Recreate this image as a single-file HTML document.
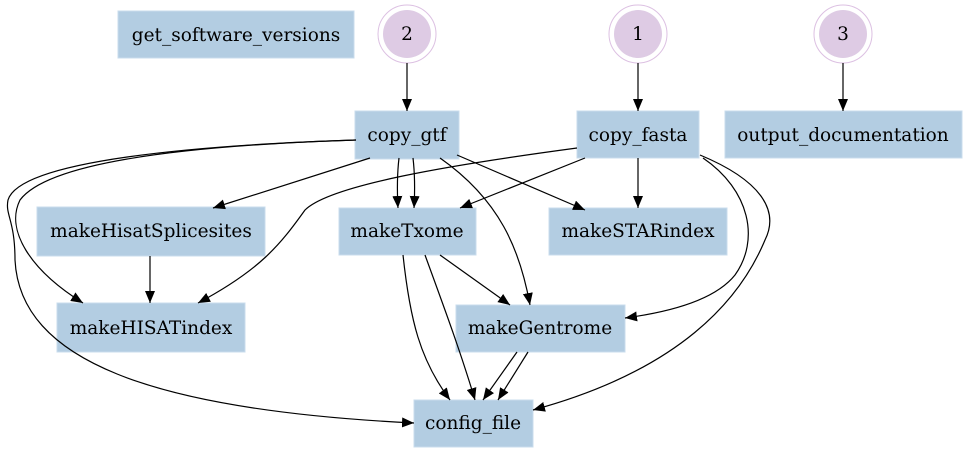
<!DOCTYPE html>
<html><head><style>
html,body{margin:0;padding:0;background:#fff;}
svg{display:block;}
text{font-family:"DejaVu Serif",serif;font-size:18.5px;fill:#000;text-anchor:middle;}
</style></head><body>
<svg width="967" height="453" viewBox="0 0 967 453" xmlns="http://www.w3.org/2000/svg">
<defs><marker id="a" markerWidth="12" markerHeight="10" refX="12" refY="5" orient="auto" markerUnits="userSpaceOnUse"><path d="M0,0 L12,5 L0,10 Z" fill="#000"/></marker></defs>
<g fill="#b3cde2" stroke="#c8dcec" stroke-width="1">
<rect x="118" y="11" width="236" height="47"/>
<rect x="355" y="111" width="104" height="48"/>
<rect x="577" y="111" width="122" height="47"/>
<rect x="725" y="111" width="237" height="47"/>
<rect x="37" y="207" width="228" height="49"/>
<rect x="339" y="208" width="137" height="47"/>
<rect x="549" y="208" width="178" height="47"/>
<rect x="57" y="303" width="188" height="49"/>
<rect x="456" y="305" width="169" height="47"/>
<rect x="414" y="400" width="119" height="47"/>
</g>
<g fill="none" stroke="#dcc0e2">
<circle cx="407" cy="34" r="29"/><circle cx="638" cy="34" r="29"/><circle cx="843" cy="34" r="29"/>
</g>
<g fill="#decbe4"><circle cx="407" cy="34" r="24"/><circle cx="638" cy="34" r="24"/><circle cx="843" cy="34" r="24"/></g>
<g fill="none" stroke="#000" stroke-width="1.2" marker-end="url(#a)">
<path d="M407,63 L407,111"/>
<path d="M638,63 L638,111"/>
<path d="M843,63 L843,111"/>
<path d="M370,158 L213,208"/>
<path d="M399,158 C397,175 397,190 398,208"/>
<path d="M413,158 C415,175 415,190 414,208"/>
<path d="M457,155 L585,210"/>
<path d="M440,158 C500,200 520,250 530,305"/>
<path d="M356,140 C200,145 50,160 20,200 C5,230 30,270 83,303"/>
<path d="M356,140 C200,145 20,160 8,200 C5,215 15,220 15,260 C20,360 150,410 414,423"/>
<path d="M585,158 L460,208"/>
<path d="M638,158 L638,208"/>
<path d="M577,148 C450,165 330,185 305,210 C280,245 260,270 198,303"/>
<path d="M703,158 C750,190 760,240 735,275 C715,300 670,312 625,318"/>
<path d="M700,155 C760,180 780,210 765,240 C740,300 680,370 533,410"/>
<path d="M150,256 L150,303"/>
<path d="M440,255 L510,305"/>
<path d="M403,255 C410,320 420,360 450,400"/>
<path d="M425,255 C445,310 460,350 475,400"/>
<path d="M517,352 L483,400"/>
<path d="M528,352 L498,400"/>
</g>
<text x="236" y="41">get_software_versions</text>
<text x="407" y="40">2</text>
<text x="638" y="40">1</text>
<text x="843" y="40">3</text>
<text x="407" y="141">copy_gtf</text>
<text x="638" y="141">copy_fasta</text>
<text x="843" y="141">output_documentation</text>
<text x="151" y="237">makeHisatSplicesites</text>
<text x="407" y="237">makeTxome</text>
<text x="638" y="237">makeSTARindex</text>
<text x="151" y="334">makeHISATindex</text>
<text x="540" y="334">makeGentrome</text>
<text x="473" y="429">config_file</text>
</svg>
</body></html>
